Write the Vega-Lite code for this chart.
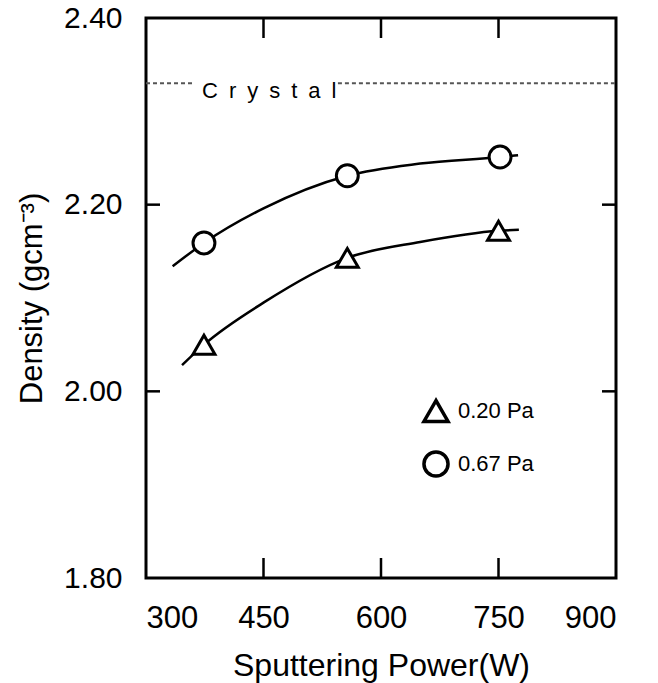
{
  "$schema": "https://vega.github.io/schema/vega-lite/v6.json",
  "width": 470,
  "height": 560,
  "autosize": "none",
  "padding": {"left": 146, "top": 18, "right": 42, "bottom": 105},
  "background": "white",
  "config": {
    "view": {"stroke": "black", "strokeWidth": 3},
    "font": "Liberation Sans",
    "axis": {"grid": false, "domain": false, "ticks": false, "tickSize": 0, "labelColor": "black", "titleColor": "black", "labelFont": "Liberation Sans", "titleFont": "Liberation Sans", "titleFontWeight": "normal"},
    "legend": {"labelFont": "Liberation Sans", "labelColor": "black"}
  },
  "layer": [
    {
      "data": {"values": [
        {"power": 450, "density": 1.8},
        {"power": 600, "density": 1.8},
        {"power": 750, "density": 1.8},
        {"power": 450, "density": 2.4},
        {"power": 600, "density": 2.4},
        {"power": 750, "density": 2.4}
      ]},
      "mark": {"type": "tick", "orient": "vertical", "size": 40, "thickness": 2.5, "color": "black", "opacity": 1, "clip": true},
      "encoding": {
        "x": {"field": "power", "type": "quantitative", "scale": {"domain": [300, 900], "nice": false, "zero": false},
              "axis": {"orient": "bottom", "values": [300, 450, 600, 750, 900], "labelPadding": 25, "labelFontSize": 31, "title": "Sputtering Power(W)", "titleFontSize": 32, "titlePadding": 17}},
        "y": {"field": "density", "type": "quantitative", "scale": {"domain": [1.8, 2.4], "nice": false, "zero": false},
              "axis": {"orient": "left", "values": [1.8, 2.0, 2.2, 2.4], "format": ".2f", "labelPadding": 24, "labelFontSize": 30, "title": "Density (gcm⁻³)", "titleFontSize": 31, "titlePadding": 15}}
      }
    },
    {
      "data": {"values": [
        {"power": 300, "density": 2.0},
        {"power": 300, "density": 2.2},
        {"power": 900, "density": 2.0},
        {"power": 900, "density": 2.2}
      ]},
      "mark": {"type": "tick", "orient": "horizontal", "size": 28, "thickness": 2.5, "color": "black", "opacity": 1, "clip": true},
      "encoding": {
        "x": {"field": "power", "type": "quantitative"},
        "y": {"field": "density", "type": "quantitative"}
      }
    },
    {
      "data": {"values": [
        {"power": 300, "density": 2.33, "seg": "a"},
        {"power": 359, "density": 2.33, "seg": "a"},
        {"power": 545, "density": 2.33, "seg": "b"},
        {"power": 900, "density": 2.33, "seg": "b"}
      ]},
      "mark": {"type": "line", "color": "#555555", "strokeWidth": 2, "strokeDash": [4, 3]},
      "encoding": {
        "x": {"field": "power", "type": "quantitative"},
        "y": {"field": "density", "type": "quantitative"},
        "detail": {"field": "seg"}
      }
    },
    {
      "data": {"values": [{"power": 371.5, "density": 2.314, "label": "C\u2002r\u2002y\u2002s\u2002t\u2002a\u2002l"}]},
      "mark": {"type": "text", "align": "left", "baseline": "alphabetic", "fontSize": 22, "font": "Liberation Sans", "color": "black"},
      "encoding": {
        "x": {"field": "power", "type": "quantitative"},
        "y": {"field": "density", "type": "quantitative"},
        "text": {"field": "label"}
      }
    },
    {
      "data": {"values": [
        {"power": 334, "density": 2.134, "series": "0.67 Pa"},
        {"power": 374, "density": 2.159, "series": "0.67 Pa"},
        {"power": 450, "density": 2.196, "series": "0.67 Pa"},
        {"power": 557, "density": 2.231, "series": "0.67 Pa"},
        {"power": 650, "density": 2.244, "series": "0.67 Pa"},
        {"power": 752, "density": 2.251, "series": "0.67 Pa"},
        {"power": 775, "density": 2.253, "series": "0.67 Pa"},
        {"power": 346, "density": 2.028, "series": "0.20 Pa"},
        {"power": 374, "density": 2.050, "series": "0.20 Pa"},
        {"power": 450, "density": 2.095, "series": "0.20 Pa"},
        {"power": 557, "density": 2.143, "series": "0.20 Pa"},
        {"power": 650, "density": 2.160, "series": "0.20 Pa"},
        {"power": 750, "density": 2.172, "series": "0.20 Pa"},
        {"power": 776, "density": 2.173, "series": "0.20 Pa"}
      ]},
      "mark": {"type": "line", "color": "black", "strokeWidth": 2.5, "interpolate": "monotone"},
      "encoding": {
        "x": {"field": "power", "type": "quantitative"},
        "y": {"field": "density", "type": "quantitative"},
        "detail": {"field": "series"}
      }
    },
    {
      "data": {"values": [
        {"power": 374, "density": 2.159, "series": "0.67 Pa"},
        {"power": 557, "density": 2.231, "series": "0.67 Pa"},
        {"power": 752, "density": 2.251, "series": "0.67 Pa"},
        {"power": 374, "density": 2.050, "series": "0.20 Pa"},
        {"power": 557, "density": 2.143, "series": "0.20 Pa"},
        {"power": 750, "density": 2.172, "series": "0.20 Pa"}
      ]},
      "mark": {"type": "point", "filled": true, "fill": "white", "stroke": "black", "strokeWidth": 3, "size": 480, "opacity": 1},
      "encoding": {
        "x": {"field": "power", "type": "quantitative"},
        "y": {"field": "density", "type": "quantitative"},
        "shape": {"field": "series", "type": "nominal",
                  "scale": {"domain": ["0.20 Pa", "0.67 Pa"], "range": ["triangle-up", "circle"]},
                  "legend": {"orient": "none", "legendX": 276, "legendY": 379, "title": null, "symbolSize": 580, "symbolStrokeWidth": 3.5, "labelFontSize": 22, "rowPadding": 15, "labelOffset": 8,
                             "encode": {"symbols": {"update": {"stroke": {"value": "black"}, "strokeWidth": {"value": 3.5}, "fill": {"value": "white"}, "opacity": {"value": 1}}}}}}
      }
    }
  ]
}
